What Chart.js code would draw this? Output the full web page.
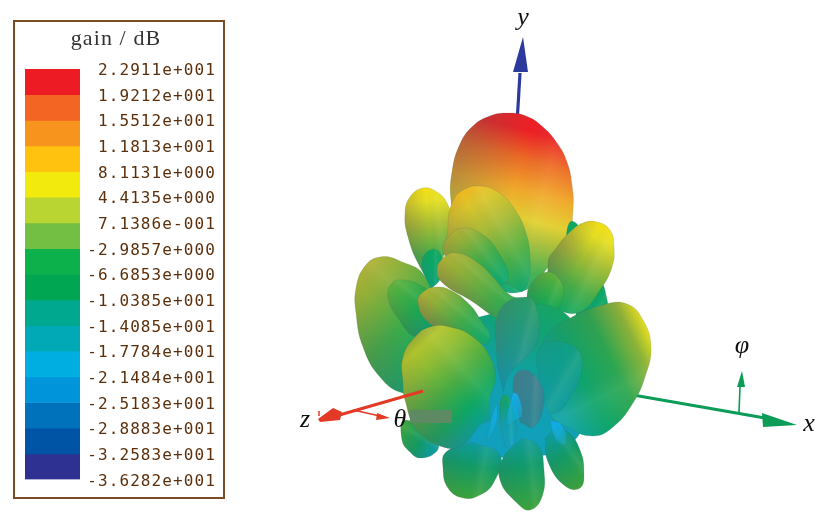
<!DOCTYPE html>
<html><head><meta charset="utf-8">
<script src="https://cdn.jsdelivr.net/npm/chart.js@4/dist/chart.umd.min.js"></script>
<style>
html,body{margin:0;padding:0;background:#fff;width:832px;height:521px;overflow:hidden}
canvas{position:absolute;top:0}
#pattern{left:0;filter:blur(.4px)}
#scale{left:0}
#box{position:absolute;left:13px;top:20px;width:208px;height:475px;border:2px solid #7a4c26}
</style></head><body>
<canvas id="pattern" width="832" height="521"></canvas>
<div id="box"></div>
<canvas id="scale" width="232" height="521"></canvas>
<script>
// ---- colour scale data
const scaleTitle = 'gain / dB';
const gainLabels = ['2.2911e+001','1.9212e+001','1.5512e+001','1.1813e+001','8.1131e+000','4.4135e+000','7.1386e-001','-2.9857e+000','-6.6853e+000','-1.0385e+001','-1.4085e+001','-1.7784e+001','-2.1484e+001','-2.5183e+001','-2.8883e+001','-3.2583e+001','-3.6282e+001'];
const bandColors = ['#ed1c24','#f26522','#f7941d','#ffc20e','#f2ea0d','#b9d531','#72bf44','#0db14b','#00a651','#00a88f','#00a9b5','#00aee2','#0095da','#0072bc','#0054a6','#2e3192'];

// ---- outlines (first point = lobe root)
const lobeMain   = [[482,283],[458,232],[451,200],[452,172],[460,144],[473,126],[490,116],[508,113],[526,116],[543,127],[557,143],[567,162],[572,185],[573,210],[568,238],[550,265],[520,292]];
const lobeUpLeft = [[433,285],[420,267],[408,237],[405,213],[410,197],[423,188],[437,192],[448,205],[451,223],[447,243],[440,267]];
const lobeBackL  = [[430,290],[422,263],[430,250],[440,253],[441,277]];
const lobeFarL   = [[447,345],[425,277],[400,261],[380,257],[365,266],[356,288],[356,313],[363,347],[380,377],[403,393],[430,390]];
const lobeInnerL = [[440,322],[417,337],[398,318],[388,297],[392,283],[403,280],[420,285],[435,298]];
const lobeUpRight= [[553,310],[548,263],[557,247],[570,232],[583,223],[597,222],[610,230],[614,247],[612,267],[600,290],[580,312]];
const lobeBackR  = [[575,318],[583,292],[600,283],[606,295],[606,310],[590,322]];
const lobeBackR2 = [[565,245],[570,222],[578,226],[572,242]];
const lobeCentre = [[522,292],[450,247],[448,227],[452,203],[463,190],[480,186],[498,192],[513,207],[525,230],[530,257],[528,282]];
const lobeMidL   = [[492,287],[453,263],[443,250],[450,235],[463,228],[480,233],[497,250],[508,280]];
const lobeMidL2  = [[530,332],[500,320],[470,300],[445,285],[437,272],[443,258],[457,253],[477,262],[493,277],[510,295],[525,300],[535,310]];
const lobeSmallR = [[530,315],[527,297],[532,283],[547,272],[560,280],[563,297],[553,313]];
const lobeLowL   = [[487,345],[450,333],[428,322],[418,303],[423,292],[437,287],[452,291],[470,305],[482,322],[490,335]];
const lobeCore   = [[505,458],[455,448],[450,390],[455,335],[500,312],[560,310],[585,360],[585,420],[560,450]];
const lobeRight  = [[540,372],[545,338],[567,320],[603,305],[627,304],[643,320],[651,347],[645,377],[633,403],[613,427],[593,436],[567,427],[550,413]];
const lobeRightIn= [[540,390],[540,347],[567,343],[582,360],[573,393],[553,413]];
const lobeColumn = [[503,392],[497,357],[500,310],[527,297],[537,310],[538,340],[530,353],[510,373]];
const lobeCoreMid= [[520,422],[513,383],[523,370],[540,383],[543,407],[533,427]];
const lobeNarrow = [[505,447],[500,423],[503,395],[513,407],[515,443]];
const lobeFootL  = [[440,440],[405,420],[402,440],[410,452],[420,458],[436,452]];
const lobeFootMid= [[472,442],[446,452],[443,468],[448,488],[463,498],[480,495],[494,482],[500,455]];
const lobeFootC  = [[522,438],[503,458],[500,480],[517,503],[530,510],[542,497],[544,470],[538,445]];
const lobeFootR  = [[545,438],[548,462],[565,486],[580,488],[584,473],[580,450],[568,432],[555,430]];
const lobeFront  = [[490,420],[480,425],[463,445],[443,447],[417,430],[405,400],[403,383],[403,357],[415,337],[430,327],[450,327],[473,337],[490,357],[495,380],[490,397]];
const streakA    = [[513,392],[506,425],[516,420],[522,415],[518,395]];
const streakB    = [[497,402],[491,420],[487,440],[496,425]];
const streakC    = [[494,362],[483,375],[478,395],[492,385]];
const streakD    = [[550,420],[556,440],[566,445],[562,425]];
const maskPatch  = [[410,410],[452,410],[452,423],[410,423]];

// ---- axes
const axisYShaft = [[517.5,115],[520,73]];
const axisYHead  = [[523,37],[513,72],[528,72]];
const axisXShaft = [[633,395],[765,418]];
const axisXHead  = [[762,413],[797,425],[763,427]];
const axisZShaft = [[423,391],[322,420]];
const axisZHead  = [[318,419],[333,408],[342,412],[340,420],[320,422]];
const axisZTick  = [[319,411],[319,416]];
const thetaShaft = [[353,410],[380,416]];
const thetaHead  = [[377,413],[390,418],[376,420]];
const phiShaft   = [[739,412],[740,387]];
const phiHead    = [[742,371],[737,387],[745,387]];

const axisNames  = ['y','z','θ','φ','x'];
const axisNameAt = [[523,25],[305,427],[400,427],[742,353],[809,431]];

// ---- styling: colour ramps root -> tip, and draw order back to front
const ramps = {
  main:['#10a878 0','#3fae50 .13','#a4bc38 .3','#e2cf30 .42','#f0a82a .58','#ec6a26 .76','#ec2026 .92'],
  high:['#0ca866 0','#45ab48 .3','#a6bd33 .62','#e4de22 .86','#f3e016 1'],
  orange:['#0ca870 0','#4aae46 .3','#a9bb38 .62','#dcc52a .86','#f0b820 1'],
  olive:['#0ca86e 0','#3cab4a .4','#8fb038 .8','#adb034 1'],
  green:['#0a9e74 0','#1ca850 .4','#4cae40 .85','#60b03c 1'],
  deep:['#0aa078 0','#0ca860 1'],
  core:['#10a0c0 0','#10a0b0 .45','#10a278 .8','#18a464 1'],
  front:['#0a9e98 0','#0ea860 .22','#44ac44 .45','#8cbc34 .72','#b0c42c .9','#98ac34 1'],
  right:['#0ca2a6 0','#0ea46c .3','#2ca650 .6','#8eb438 .85','#e6e01e 1'],
  rightIn:['#0e9c9c 0','#109f84 1'],
  column:['#1490a8 0','#2a9c68 1'],
  mid:['#2c8494 0','#3e8090 1'],
  foot:['#0c9ca0 0','#109a68 .4','#3ba23a 1'],
  cyan:['#10aeec 0','rgba(16,174,236,.25) 1']
};
const layers = [
  [lobeMain,'main',.4],[lobeBackR2,'deep',0],[lobeUpLeft,'high',.3],[lobeBackL,'deep',.1],[lobeFarL,'olive',.25],
  [lobeInnerL,'green',.25],[lobeBackR,'deep',.1],[lobeUpRight,'high',.35],[lobeCentre,'orange',.3],
  [lobeMidL,'olive',.25],[lobeSmallR,'green',.2],
  [lobeCore,'core',0],[lobeFootL,'foot',.1],[lobeFootMid,'foot',.12],[lobeFootC,'foot',.12],[lobeFootR,'foot',.08],
  [lobeMidL2,'olive',.35],[lobeLowL,'olive',.45],
  [lobeRight,'right',.1],[lobeRightIn,'rightIn',.06],[lobeColumn,'column',.2],[lobeCoreMid,'mid',.1],[lobeNarrow,'core',.1],
  [streakA,'cyan',0],[streakB,'cyan',0],[streakC,'cyan',0],[streakD,'cyan',0],[lobeFront,'front',.3]
];

const toXY = a => a.map(p => ({x:p[0], y:p[1]}));
const closed = a => toXY(a.concat([a[0]]));

function axisOf(pts){
  const b = pts[0]; let tip = b, d = 0;
  pts.forEach(p => { const q = Math.hypot(p[0]-b[0], p[1]-b[1]); if (q > d){ d = q; tip = p; } });
  return {b, tip};
}
function rampFill(pts, ramp){
  return c => {
    const {x, y} = c.chart.scales;
    if (!x || !c.chart.chartArea) return 'transparent';
    const {b, tip} = axisOf(pts);
    const g = c.chart.ctx.createLinearGradient(x.getPixelForValue(b[0]), y.getPixelForValue(b[1]), x.getPixelForValue(tip[0]), y.getPixelForValue(tip[1]));
    ramps[ramp].forEach(s => { const [col, at] = s.split(' '); g.addColorStop(+at, col); });
    return g;
  };
}
function shadeFill(pts, amount){
  return c => {
    const {x, y} = c.chart.scales;
    if (!x || !c.chart.chartArea) return 'transparent';
    const {b, tip} = axisOf(pts);
    let nx = tip[1]-b[1], ny = b[0]-tip[0];
    const L = Math.hypot(nx, ny); nx /= L; ny /= L;
    if (nx > 0){ nx = -nx; ny = -ny; }            // shadow sits on the screen-left side
    let hi = -1e9, lo = 1e9, at = null;
    pts.forEach(p => { const s = p[0]*nx + p[1]*ny; if (s > hi){ hi = s; at = p; } if (s < lo){ lo = s; } });
    const x0 = x.getPixelForValue(at[0]), y0 = y.getPixelForValue(at[1]);
    const w = hi - lo;
    const g = c.chart.ctx.createLinearGradient(x0, y0, x0 - nx*w, y0 - ny*w);
    g.addColorStop(0, 'rgba(105,90,80,'+amount+')');
    g.addColorStop(.5, 'rgba(105,90,80,0)');
    g.addColorStop(.72, 'rgba(255,255,200,.08)');
    g.addColorStop(1, 'rgba(255,255,200,0)');
    return g;
  };
}
const poly = (pts, color) => ({data:closed(pts), showLine:true, fill:'shape', tension:0, pointRadius:0, borderWidth:0, backgroundColor:color});
const stroke = (pts, color, w) => ({data:toXY(pts), showLine:true, fill:false, tension:0, pointRadius:0, borderWidth:w, borderColor:color, backgroundColor:color});

const sets = [];
sets.push(stroke(axisYShaft,'#2b3a9c',3.2), poly(axisYHead,'#2b3a9c'));
sets.push(stroke(axisXShaft,'#0b9c58',3), poly(axisXHead,'#0b9c58'));
sets.push(stroke(phiShaft,'#0b9c58',1.6), poly(phiHead,'#0b9c58'));
layers.forEach(([pts, ramp, amount]) => {
  sets.push({data:closed(pts), showLine:true, fill:'shape', tension:.45, pointRadius:0, borderWidth:.6, borderColor:'rgba(70,95,80,.28)', backgroundColor:rampFill(pts, ramp)});
  if (amount > 0) sets.push({data:closed(pts), showLine:true, fill:'shape', tension:.45, pointRadius:0, borderWidth:0, backgroundColor:shadeFill(pts, amount)});
});
sets.push(poly(maskPatch,'#5d8a62'));
sets.push(stroke(axisZShaft,'#e23a26',3), poly(axisZHead,'#e23a26'), stroke(axisZTick,'#e23a26',1.5));
sets.push(stroke(thetaShaft,'#e23a26',1.5), poly(thetaHead,'#e23a26'));
sets.forEach((s, i) => { s.order = sets.length - i; });

const nameLabels = {
  id:'nameLabels',
  afterDraw(chart){
    const {ctx, scales:{x, y}} = chart;
    ctx.save();
    ctx.fillStyle = '#111';
    ctx.textAlign = 'center';
    ctx.font = 'italic 26px "Liberation Serif"';
    axisNames.forEach((t, i) => ctx.fillText(t, x.getPixelForValue(axisNameAt[i][0]), y.getPixelForValue(axisNameAt[i][1])));
    ctx.restore();
  }
};

new Chart(document.getElementById('pattern'), {
  type:'scatter',
  data:{datasets:sets},
  options:{
    responsive:false, animation:false,
    layout:{padding:0},
    plugins:{legend:{display:false}, tooltip:{enabled:false}, title:{display:false}},
    scales:{
      x:{type:'linear', min:0, max:832, display:false},
      y:{type:'linear', min:0, max:521, reverse:true, display:false}
    }
  },
  plugins:[nameLabels]
});

// ---- colour scale chart
const gainValues = gainLabels.map(Number);
const tickNudge = {
  id:'tickNudge',
  beforeDraw(c){ c.ctx.letterSpacing = '1.1px'; },
  afterDatasetsDraw(c){ c.ctx.save(); c.ctx.translate(0, 2); },
  afterDraw(c){ c.ctx.restore(); }
};
new Chart(document.getElementById('scale'), {
  type:'bar',
  data:{
    labels:[''],
    datasets:bandColors.map((col, i) => ({yAxisID:'y', data:[[gainValues[i+1], gainValues[i]]], backgroundColor:col, barPercentage:1, categoryPercentage:1, grouped:false}))
  },
  options:{
    responsive:false, animation:false,
    layout:{padding:{top:20, bottom:41.5, left:16, right:16}},
    plugins:{
      legend:{display:false}, tooltip:{enabled:false},
      title:{display:true, text:scaleTitle, color:'#333', font:{family:'"Liberation Serif"', size:22, weight:'normal', lineHeight:1.2}, padding:{top:6, bottom:16.6}}
    },
    scales:{
      x:{display:false},
      inset:{
        position:'left', display:true, grid:{display:false}, border:{display:false},
        ticks:{display:false}, afterFit(s){ s.width = 9; }
      },
      y:{
        position:'right', min:gainValues[16], max:gainValues[0],
        grid:{display:false}, border:{display:false},
        afterBuildTicks(s){ s.ticks = gainValues.slice().reverse().map(v => ({value:v})); },
        afterFit(s){ s.width = 136; },
        ticks:{
          autoSkip:false, padding:0, crossAlign:'far', z:1,
          color:'#5c300c',
          font:{family:'"DejaVu Sans Mono"', size:16},
          callback(v){ return gainLabels[gainValues.indexOf(v)]; }
        }
      }
    }
  },
  plugins:[tickNudge]
});
</script>
</body></html>
